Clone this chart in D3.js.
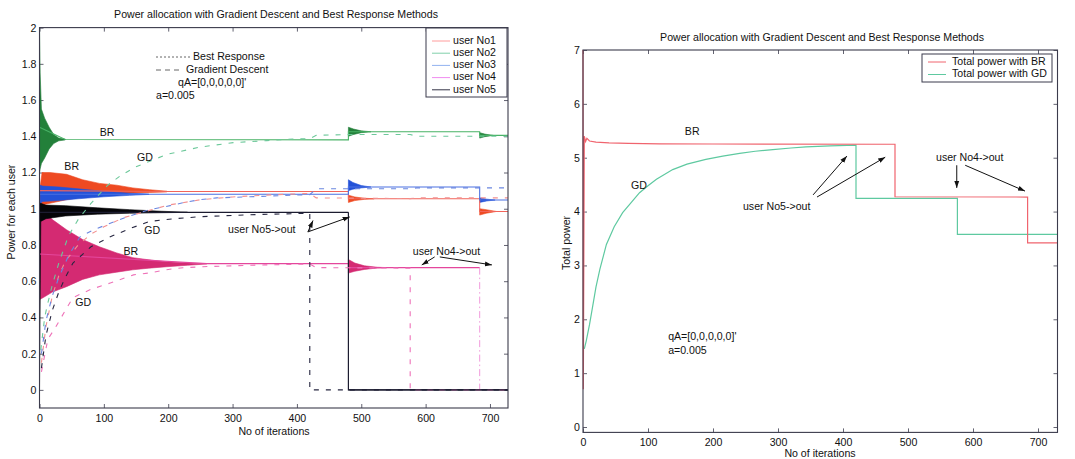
<!DOCTYPE html>
<html>
<head>
<meta charset="utf-8">
<script src="https://cdn.jsdelivr.net/npm/d3@7"></script>
<style>
  body { margin: 0; background: #ffffff; }
  svg text { font-family: "Liberation Sans", Arial, Helvetica, sans-serif; fill: #111; }
</style>
</head>
<body>
<svg id="chart" width="1075" height="459"></svg>
<script>
// ---------- data ----------
const userNames = ["user No1", "user No2", "user No3", "user No4", "user No5"];
const iterTicks = [0, 100, 200, 300, 400, 500, 600, 700];
const powerTicks = [0, 0.2, 0.4, 0.6, 0.8, 1, 1.2, 1.4, 1.6, 1.8, 2];
const totalTicks = [0, 1, 2, 3, 4, 5, 6, 7];

// Best Response: settled power level of each user, [iteration, power]
const brLevel1 = [[0, 1.10], [198, 1.095], [480, 1.095], [480, 1.055], [684, 1.055], [684, 0.985], [728, 0.985]];
const brLevel2 = [[0, 1.45], [40, 1.382], [480, 1.38], [480, 1.425], [684, 1.425], [684, 1.405], [728, 1.405]];
const brLevel3 = [[0, 1.08], [480, 1.08], [480, 1.12], [684, 1.12], [684, 1.048], [728, 1.048]];
const brLevel4 = [[0, 0.75], [260, 0.697], [480, 0.697], [480, 0.675], [684, 0.675]];
const brLevel5 = [[0, 0.98], [480, 0.98]];

// Best Response: oscillation envelopes, [iteration, low, high], one list per transient
const brBand1 = [
  [[1, 1.00, 1.12], [4, 1.02, 1.20], [16, 1.03, 1.20], [42, 1.05, 1.19], [67, 1.065, 1.16], [93, 1.075, 1.14],
   [120, 1.082, 1.13], [145, 1.087, 1.115], [171, 1.090, 1.105], [198, 1.093, 1.097]],
  [[480, 1.035, 1.075], [490, 1.045, 1.065], [505, 1.052, 1.058], [520, 1.055, 1.055]],
  [[684, 0.965, 1.0], [694, 0.975, 0.995], [710, 0.985, 0.985]]
];
const brBand2 = [
  [[0, 1.20, 2.0], [1, 1.22, 1.75], [3, 1.25, 1.55], [8, 1.28, 1.50], [15, 1.33, 1.45], [22, 1.36, 1.41],
   [30, 1.375, 1.39], [40, 1.38, 1.384]],
  [[480, 1.40, 1.45], [488, 1.41, 1.44], [500, 1.42, 1.43], [515, 1.425, 1.425]],
  [[684, 1.39, 1.42], [692, 1.398, 1.412], [705, 1.405, 1.405]]
];
const brBand3 = [
  [[1, 1.03, 1.13], [5, 1.04, 1.125], [30, 1.045, 1.12], [60, 1.055, 1.11], [100, 1.066, 1.096],
   [140, 1.074, 1.086], [170, 1.079, 1.081]],
  [[480, 1.10, 1.16], [487, 1.108, 1.145], [500, 1.115, 1.128], [515, 1.12, 1.12]],
  [[684, 1.035, 1.06], [695, 1.043, 1.053], [708, 1.048, 1.048]]
];
const brBand4 = [
  [[1, 0.50, 1.0], [6, 0.51, 0.99], [20, 0.54, 0.94], [42, 0.57, 0.884], [67, 0.61, 0.83], [93, 0.635, 0.79],
   [120, 0.65, 0.756], [145, 0.663, 0.73], [170, 0.672, 0.718], [198, 0.68, 0.707], [230, 0.688, 0.70],
   [260, 0.695, 0.697]],
  [[480, 0.645, 0.72], [490, 0.655, 0.70], [505, 0.665, 0.685], [525, 0.673, 0.677], [540, 0.675, 0.675]]
];
const brBand5 = [
  [[0, 0, 1.03], [2, 0.93, 1.03], [10, 0.945, 1.02], [40, 0.96, 1.017], [90, 0.97, 1.005], [140, 0.975, 0.995],
   [190, 0.978, 0.986], [230, 0.98, 0.981]]
];

// Gradient Descent trajectories, [iteration, power]
const gd1 = [[3, 0.15], [10, 0.35], [20, 0.52], [30, 0.63], [40, 0.71], [60, 0.80], [80, 0.86], [100, 0.90],
  [130, 0.95], [160, 0.98], [200, 1.02], [250, 1.05], [300, 1.065], [350, 1.075], [420, 1.085], [430, 1.06],
  [576, 1.056], [586, 1.06], [728, 1.06]];
const gd2 = [[2, 0.22], [8, 0.40], [13, 0.48], [20, 0.58], [30, 0.70], [45, 0.85], [60, 0.94], [80, 1.03],
  [106, 1.13], [125, 1.18], [149, 1.23], [198, 1.30], [249, 1.34], [301, 1.365], [353, 1.376], [394, 1.385],
  [420, 1.387], [430, 1.405], [480, 1.41], [576, 1.41], [586, 1.40], [728, 1.40]];
const gd3 = [[3, 0.2], [10, 0.38], [20, 0.52], [30, 0.62], [45, 0.74], [63, 0.845], [85, 0.885], [110, 0.92],
  [140, 0.96], [171, 0.995], [203, 1.017], [223, 1.033], [249, 1.05], [275, 1.06], [327, 1.066], [380, 1.073],
  [420, 1.078], [430, 1.11], [576, 1.11], [586, 1.115], [728, 1.115]];
const gd4 = [[3, 0.10], [13, 0.28], [24, 0.34], [42, 0.45], [52, 0.51], [80, 0.555], [110, 0.59], [146, 0.635],
  [172, 0.646], [200, 0.665], [223, 0.674], [254, 0.68], [300, 0.685], [350, 0.69], [420, 0.695], [430, 0.675],
  [576, 0.672]];
const gd5 = [[3, 0.12], [10, 0.30], [20, 0.44], [30, 0.54], [40, 0.62], [52, 0.70], [80, 0.79], [110, 0.845],
  [140, 0.89], [171, 0.93], [210, 0.945], [249, 0.956], [327, 0.967], [420, 0.975]];

// iteration at which a user leaves (null = stays to the end)
const exitBR = [null, null, null, 684, 480];
const exitGD = [null, null, null, 576, 420];

// Total transmit power, [iteration, total power]
const totalBR = [[0, 7.0], [0.5, 0.7], [2, 5.40], [4, 5.30], [6, 5.36], [10, 5.31], [20, 5.29], [40, 5.275],
  [70, 5.265], [118, 5.258], [200, 5.255], [480, 5.25], [480, 4.275], [684, 4.27], [684, 3.42], [730, 3.42]];
const totalGD = [[2, 1.45], [5, 1.6], [10, 1.9], [15, 2.25], [20, 2.6], [26, 2.93], [36, 3.39], [48, 3.72],
  [61, 3.98], [75, 4.18], [87, 4.35], [100, 4.48], [113, 4.60], [138, 4.78], [160, 4.88], [189, 4.97],
  [215, 5.03], [241, 5.08], [265, 5.12], [292, 5.15], [320, 5.18], [343, 5.20], [380, 5.22], [420, 5.235],
  [420, 4.245], [576, 4.245], [576, 3.576], [730, 3.576]];

// ---------- styles ----------
const bandColor = ["#ee4a22", "#23803a", "#2352d8", "#d42a72", "#050508"];
const brColor   = ["#f2645a", "#48b266", "#4a70e2", "#e4469c", "#1c1c30"];
const gdColor   = ["#f29090", "#6cc89a", "#6a86e0", "#ee72b8", "#262640"];
const legColor  = ["#ff9c9c", "#80d0aa", "#92b2f0", "#f08cf0", "#343446"];
const fontSize = 10.6;

const brLevels = [brLevel1, brLevel2, brLevel3, brLevel4, brLevel5];
const brBands = [brBand1, brBand2, brBand3, brBand4, brBand5];
const gdPaths = [gd1, gd2, gd3, gd4, gd5];

const svg = d3.select("#chart");
const defs = svg.append("defs");
defs.append("marker").attr("id", "head")
  .attr("viewBox", "0 0 10 10").attr("refX", 10).attr("refY", 5)
  .attr("markerWidth", 7).attr("markerHeight", 7).attr("orient", "auto")
  .append("path").attr("d", "M0,1.5 L10,5 L0,8.5 Z").attr("fill", "#111");

const frameColor = "#3b3b4c";

function frame(g, x, y, xTicks, yTicks, yFmt) {
  const [x0, x1] = x.range();
  const [y0, y1] = y.range();
  const style = a => {
    a.select(".domain").remove();
    a.selectAll("line").attr("stroke", frameColor).attr("stroke-width", 0.8);
    a.selectAll("text").attr("font-size", fontSize).attr("fill", "#111")
      .attr("font-family", "'Liberation Sans', Arial, sans-serif");
  };
  g.append("g").attr("transform", `translate(0,${y0})`)
    .call(d3.axisBottom(x).tickValues(xTicks).tickSize(-4).tickPadding(6)).call(style);
  g.append("g").attr("transform", `translate(0,${y1})`)
    .call(d3.axisTop(x).tickValues(xTicks).tickSize(-4).tickFormat("")).call(style);
  g.append("g").attr("transform", `translate(${x0},0)`)
    .call(d3.axisLeft(y).tickValues(yTicks).tickSize(-4).tickPadding(3).tickFormat(yFmt)).call(style);
  g.append("g").attr("transform", `translate(${x1},0)`)
    .call(d3.axisRight(y).tickValues(yTicks).tickSize(-4).tickFormat("")).call(style);
}

function border(g, x, y) {
  const [x0, x1] = x.range();
  const [y0, y1] = y.range();
  g.append("rect").attr("x", x0).attr("y", y1).attr("width", x1 - x0).attr("height", y0 - y1)
    .attr("fill", "none").attr("stroke", frameColor).attr("stroke-width", 1.1);
}

function label(g, x, y, txt, opts = {}) {
  return g.append("text").attr("x", x).attr("y", y).attr("font-size", opts.size || fontSize)
    .attr("text-anchor", opts.anchor || "start").attr("dominant-baseline", "middle").text(txt);
}

function arrow(g, x, y, p, q) {
  g.append("line").attr("x1", x(p[0])).attr("y1", y(p[1])).attr("x2", x(q[0])).attr("y2", y(q[1]))
    .attr("stroke", "#111").attr("stroke-width", 1).attr("marker-end", "url(#head)");
}

// ---------- left panel: power of each user ----------
const xL = d3.scaleLinear().domain([0, 728]).range([39.5, 508]);
const yL = d3.scaleLinear().domain([-0.1, 2]).range([408, 27.6]);
const gL = svg.append("g");

frame(gL, xL, yL, iterTicks, powerTicks, d => String(Math.round(d * 10) / 10));

const lineL = d3.line().x(d => xL(d[0])).y(d => yL(d[1]));
const areaL = d3.area().x(d => xL(d[0])).y0(d => yL(d[1])).y1(d => yL(d[2]));

// oscillating Best Response envelopes
[0, 2, 1, 3, 4].forEach(i => {
  brBands[i].forEach(seg => {
    gL.append("path").datum(seg).attr("d", areaL)
      .attr("fill", bandColor[i]).attr("stroke", bandColor[i]).attr("stroke-width", 0.6);
  });
});

// settled Best Response levels
brLevels.forEach((lv, i) => {
  gL.append("path").datum(lv).attr("d", lineL).attr("fill", "none")
    .attr("stroke", brColor[i]).attr("stroke-width", 1.1);
});

// Best Response: user drop-outs
exitBR.forEach((it, i) => {
  if (it === null) return;
  const lv = brLevels[i];
  const top = lv[lv.length - 1][1];
  const drop = [[it, top], [it, 0], [728, 0]];
  gL.append("path").datum(i === 4 ? drop : drop.slice(0, 2)).attr("d", lineL).attr("fill", "none")
    .attr("stroke", i === 4 ? brColor[i] : "#ef8fd8")
    .attr("stroke-width", i === 4 ? 1.2 : 0.9)
    .attr("stroke-dasharray", i === 4 ? null : "7,3,1.5,3");
});

// Gradient Descent trajectories
gdPaths.forEach((p, i) => {
  const it = exitGD[i];
  const pts = it === null ? p : p.concat([[it, p[p.length - 1][1]], [it, 0], [728, 0]]);
  gL.append("path").datum(pts).attr("d", lineL).attr("fill", "none")
    .attr("stroke", gdColor[i]).attr("stroke-width", 1.1)
    .attr("stroke-dasharray", "5,7");
});

// redraw the zero line of user No5 on top
gL.append("path").datum([[480, 0], [728, 0]]).attr("d", lineL)
  .attr("stroke", brColor[4]).attr("stroke-width", 1.2);

border(gL, xL, yL);

// legend
const legL = gL.append("g");
legL.append("rect").attr("x", 426).attr("y", 28).attr("width", 81).attr("height", 69)
  .attr("fill", "#fff").attr("stroke", frameColor).attr("stroke-width", 1);
userNames.forEach((n, i) => {
  const yy = 41 + i * 12.2;
  legL.append("line").attr("x1", 432).attr("x2", 450).attr("y1", yy).attr("y2", yy)
    .attr("stroke", legColor[i]).attr("stroke-width", 1);
  label(legL, 453, yy, n);
});

// method key and parameters
gL.append("line").attr("x1", 156).attr("x2", 190).attr("y1", 57).attr("y2", 57)
  .attr("stroke", "#555").attr("stroke-width", 0.9).attr("stroke-dasharray", "2,2");
label(gL, 193, 57, "Best Response");
gL.append("line").attr("x1", 156).attr("x2", 182).attr("y1", 70).attr("y2", 70)
  .attr("stroke", "#555").attr("stroke-width", 0.9).attr("stroke-dasharray", "5,4");
label(gL, 186, 70, "Gradient Descent");
label(gL, 178, 83, "qA=[0,0,0,0,0]'");
label(gL, 156, 96, "a=0.005");

// curve labels
label(gL, xL(105), yL(1.418), "BR", { anchor: "middle" });
label(gL, xL(50), yL(1.231), "BR", { anchor: "middle" });
label(gL, xL(164), yL(1.28), "GD", { anchor: "middle" });
label(gL, xL(175), yL(0.877), "GD", { anchor: "middle" });
label(gL, xL(142), yL(0.761), "BR", { anchor: "middle" });
label(gL, xL(68), yL(0.48), "GD", { anchor: "middle" });
label(gL, xL(293), yL(0.883), "user No5->out");
label(gL, xL(580), yL(0.761), "user No4->out");
arrow(gL, xL, yL, [417, 0.872], [425, 0.935]);
arrow(gL, xL, yL, [417, 0.872], [482, 0.955]);
arrow(gL, xL, yL, [614, 0.734], [594, 0.69]);
arrow(gL, xL, yL, [622, 0.734], [703, 0.69]);

label(gL, 276, 15, "Power allocation with Gradient Descent and Best Response Methods", { anchor: "middle" });
label(gL, 274, 432, "No of iterations", { anchor: "middle" });
gL.append("text").attr("transform", "translate(12,212) rotate(-90)").attr("font-size", fontSize)
  .attr("text-anchor", "middle").attr("dominant-baseline", "middle").text("Power for each user");

// ---------- right panel: total power ----------
const xR = d3.scaleLinear().domain([0, 730]).range([583, 1057.5]);
const yR = d3.scaleLinear().domain([-0.1, 7]).range([432.4, 50]);
const gR = svg.append("g");

frame(gR, xR, yR, iterTicks, totalTicks, d3.format("d"));

const lineR = d3.line().x(d => xR(d[0])).y(d => yR(d[1]));
gR.append("path").datum(totalGD).attr("d", lineR).attr("fill", "none")
  .attr("stroke", "#5ec9a0").attr("stroke-width", 1.2);
gR.append("path").datum(totalBR).attr("d", lineR).attr("fill", "none")
  .attr("stroke", "#f0646e").attr("stroke-width", 1.2);

border(gR, xR, yR);

const legR = gR.append("g");
legR.append("rect").attr("x", 922).attr("y", 54).attr("width", 130).attr("height", 28)
  .attr("fill", "#fff").attr("stroke", frameColor).attr("stroke-width", 1);
[["Total power with BR", "#f0646e"], ["Total power with GD", "#5ec9a0"]].forEach((e, i) => {
  const yy = 62 + i * 12.5;
  legR.append("line").attr("x1", 928).attr("x2", 946).attr("y1", yy).attr("y2", yy)
    .attr("stroke", e[1]).attr("stroke-width", 1);
  label(legR, 952, yy, e[0]);
});

label(gR, xR(168), yR(5.48), "BR", { anchor: "middle" });
label(gR, xR(86), yR(4.47), "GD", { anchor: "middle" });
label(gR, xR(298), yR(4.08), "user No5->out", { anchor: "middle" });
label(gR, xR(595), yR(4.99), "user No4->out", { anchor: "middle" });
arrow(gR, xR, yR, [354, 4.31], [406, 5.03]);
arrow(gR, xR, yR, [360, 4.27], [465, 5.01]);
arrow(gR, xR, yR, [575, 4.86], [575, 4.44]);
arrow(gR, xR, yR, [588, 4.86], [680, 4.38]);
label(gR, xR(131), yR(1.67), "qA=[0,0,0,0,0]'");
label(gR, xR(131), yR(1.41), "a=0.005");

label(gR, 822, 38, "Power allocation with Gradient Descent and Best Response Methods", { anchor: "middle" });
label(gR, 820, 454, "No of iterations", { anchor: "middle" });
gR.append("text").attr("transform", "translate(567,243) rotate(-90)").attr("font-size", fontSize)
  .attr("text-anchor", "middle").attr("dominant-baseline", "middle").text("Total power");
</script>
</body>
</html>
